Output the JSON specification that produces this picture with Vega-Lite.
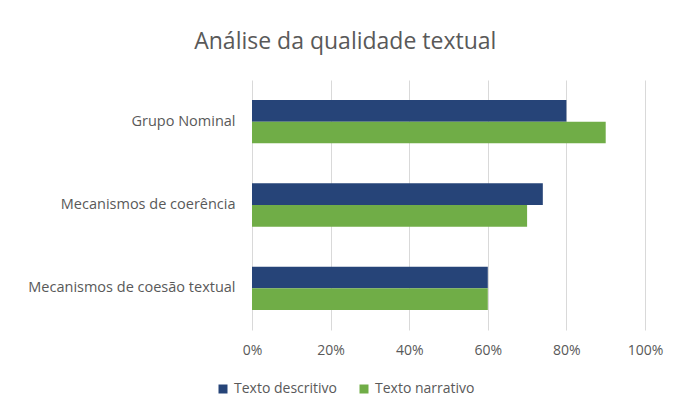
{
  "$schema": "https://vega.github.io/schema/vega-lite/v6.json",
  "autosize": "none",
  "width": 393,
  "height": 250,
  "padding": {"left": 252, "top": 80, "right": 33, "bottom": 79},
  "background": "white",
  "title": {
    "text": "Análise da qualidade textual",
    "fontSize": 23,
    "font": "Open Sans",
    "fontWeight": "normal",
    "color": "#595959",
    "anchor": "middle",
    "frame": "bounds",
    "offset": 26
  },
  "data": {
    "values": [
      {"categoria": "Grupo Nominal", "serie": "Texto descritivo", "valor": 0.80},
      {"categoria": "Grupo Nominal", "serie": "Texto narrativo", "valor": 0.90},
      {"categoria": "Mecanismos de coerência", "serie": "Texto descritivo", "valor": 0.74},
      {"categoria": "Mecanismos de coerência", "serie": "Texto narrativo", "valor": 0.70},
      {"categoria": "Mecanismos de coesão textual", "serie": "Texto descritivo", "valor": 0.60},
      {"categoria": "Mecanismos de coesão textual", "serie": "Texto narrativo", "valor": 0.60}
    ]
  },
  "mark": {"type": "bar"},
  "encoding": {
    "y": {
      "field": "categoria",
      "type": "nominal",
      "sort": ["Grupo Nominal", "Mecanismos de coerência", "Mecanismos de coesão textual"],
      "scale": {"paddingInner": 0.48, "paddingOuter": 0.24},
      "axis": {
        "title": null,
        "domain": false,
        "ticks": false,
        "labelFont": "Open Sans",
        "labelFontSize": 14.5,
        "labelColor": "#595959",
        "labelPadding": 17,
        "labelLimit": 300
      }
    },
    "yOffset": {
      "field": "serie",
      "type": "nominal",
      "sort": ["Texto descritivo", "Texto narrativo"],
      "scale": {"paddingInner": 0, "paddingOuter": 0}
    },
    "x": {
      "field": "valor",
      "type": "quantitative",
      "scale": {"domain": [0, 1], "nice": false},
      "axis": {
        "title": null,
        "format": ".0%",
        "values": [0, 0.2, 0.4, 0.6, 0.8, 1],
        "domain": false,
        "ticks": false,
        "grid": true,
        "gridColor": "#D9D9D9",
        "gridWidth": 1,
        "labelFlush": false,
        "labelFont": "Open Sans",
        "labelFontSize": 14,
        "labelColor": "#595959",
        "labelPadding": 13
      }
    },
    "color": {
      "field": "serie",
      "type": "nominal",
      "sort": ["Texto descritivo", "Texto narrativo"],
      "scale": {"range": ["#264478", "#70AD47"]},
      "legend": {
        "title": null,
        "orient": "none",
        "direction": "horizontal",
        "legendX": -36,
        "legendY": 302,
        "symbolType": "square",
        "symbolSize": 81,
        "symbolStrokeWidth": 0,
        "labelFont": "Open Sans",
        "labelFontSize": 14,
        "labelColor": "#595959",
        "columnPadding": 20,
        "labelOffset": 4
      }
    }
  },
  "config": {
    "view": {"stroke": null}
  }
}
